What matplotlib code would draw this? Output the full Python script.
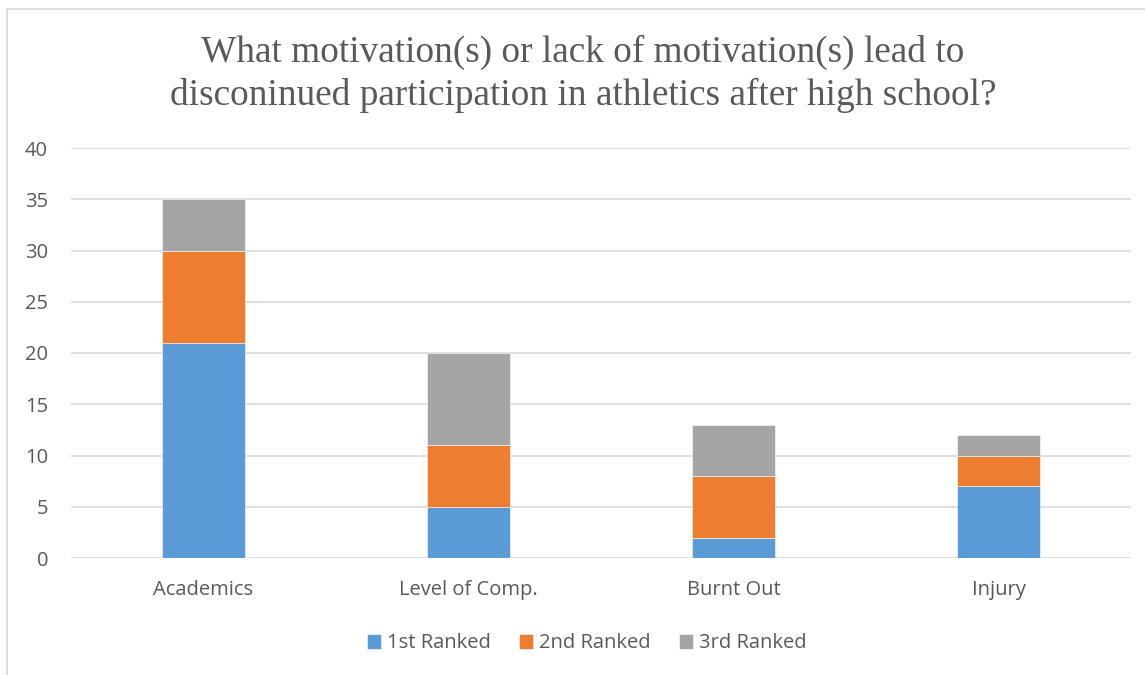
import matplotlib
matplotlib.use("Agg")
import matplotlib.pyplot as plt
from matplotlib.patches import Rectangle
import numpy as np

categories = ["Academics", "Level of Comp.", "Burnt Out", "Injury"]
series_names = ["1st Ranked", "2nd Ranked", "3rd Ranked"]
first = [21, 5, 2, 7]
second = [9, 6, 6, 3]
third = [5, 9, 5, 2]
colors = ["#5B9BD5", "#ED7D31", "#A5A5A5"]
yticks = [0, 5, 10, 15, 20, 25, 30, 35, 40]
title = "What motivation(s) or lack of motivation(s) lead to\ndisconinued participation in athletics after high school?"

W, H = 1145, 675
fig = plt.figure(figsize=(W / 100, H / 100), dpi=100)
fig.patch.set_facecolor("white")

# chart frame (extends beyond right/bottom edges)
fig.patches.append(Rectangle((7 / W, -0.1), 1.2, 1 - 9 / H + 0.1, transform=fig.transFigure,
                             fill=False, edgecolor="#D9D9D9", linewidth=1.2, zorder=0))

ax = fig.add_axes([71 / W, 117 / H, 1060 / W, 410 / H])
x = np.arange(len(categories))
bw = 0.313
bottom = np.zeros(len(categories))
for vals, name, c in zip([first, second, third], series_names, colors):
    ax.bar(x, vals, bw, bottom=bottom, color=c, label=name, zorder=3,
           edgecolor="white", linewidth=0.4)
    bottom += np.array(vals)

fs = 14.5
ax.set_xlim(-0.5, len(categories) - 0.5)
ax.set_ylim(0, 40)
ax.set_yticks(yticks)
ax.yaxis.grid(True, color="#D9D9D9", linewidth=1.2, zorder=0)
ax.set_axisbelow(True)
for s in ax.spines.values():
    s.set_visible(False)
ax.tick_params(axis="both", length=0, colors="#595959", labelsize=fs)
ax.tick_params(axis="y", pad=16.5)
ax.tick_params(axis="x", pad=16)
ax.set_xticks(x)
ax.set_xticklabels(categories)
for lab in ax.get_xticklabels() + ax.get_yticklabels():
    lab.set_fontfamily("Open Sans")

fig.text(583 / W, 1 - 73.5 / H, title, ha="center", va="center", fontsize=26.8,
         family="Liberation Serif", color="#595959", linespacing=1.28)

leg = fig.legend(loc="center", bbox_to_anchor=(587 / W, 1 - 643.5 / H), ncol=3, frameon=False,
                 prop={"family": "Open Sans", "size": fs}, handlelength=0.7, handleheight=0.7,
                 handletextpad=0.3, columnspacing=1.4)
for t in leg.get_texts():
    t.set_color("#595959")

fig.savefig("out.png", dpi=100)
